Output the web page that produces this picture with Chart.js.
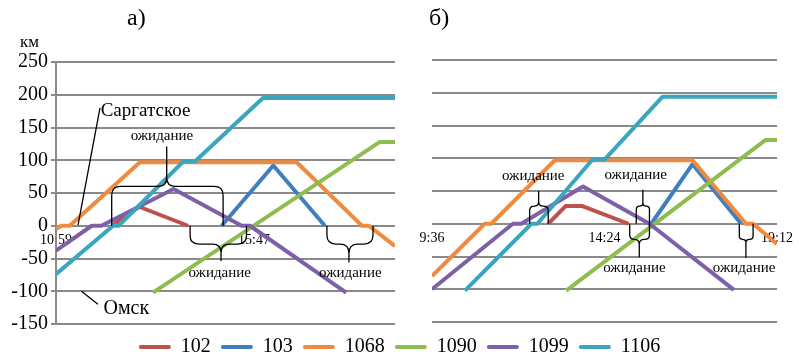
<!DOCTYPE html>
<html><head><meta charset="utf-8">
<script src="https://cdn.jsdelivr.net/npm/chart.js@4.4.1/dist/chart.umd.min.js"></script>
<style>
html,body{margin:0;padding:0;background:#fff;overflow:hidden;}
#wrap{position:relative;width:799px;height:362px;overflow:hidden;font-family:'Liberation Serif','Times New Roman',serif;}
canvas{position:absolute;left:0;top:0;}
.lbl{position:absolute;color:#000;white-space:nowrap;line-height:1;}
</style></head><body>
<div id="wrap">
<canvas id="ca" width="799" height="362"></canvas>
<canvas id="cb" width="799" height="362"></canvas>
<canvas id="cl" width="799" height="80" style="top:327px"></canvas>
<div class="lbl" style="left:127px;top:5px;font-size:24px">а)</div>
<div class="lbl" style="left:429px;top:5px;font-size:24px">б)</div>
<div class="lbl" style="left:20px;top:33px;font-size:17px">км</div>
</div>
<script>
// ---- data ----
const seriesNames = ["102","103","1068","1090","1099","1106"];
const yMin = -150, yMax = 250, yStep = 50;
const aRange = ["10:59","19:12"];
const bRange = ["9:36","19:12"];
const aTickLabels = ["10:59","15:47"];
const bTickLabels = ["9:36","14:24","19:12"];

// panel а)
const a102_t  = ["12:20","13:00","14:11"];
const a102_km = [0,29,0];
const a103_t  = ["15:00","16:15","17:30"];
const a103_km = [0,92,0];
const a1068_t  = ["10:59","11:07","11:19","13:01","16:49","18:24","18:34","19:12"];
const a1068_km = [-5,0,0,97,97,0,0,-31];
const a1090_t  = ["13:20","18:50","19:12"];
const a1090_km = [-102,128,128];
const a1099_t  = ["10:59","11:51","12:05","13:50","15:29","15:41","18:01"];
const a1099_km = [-38,0,0,56,0,0,-102];
const a1106_t  = ["10:59","12:22","12:30","14:04","14:21","16:00","19:12"];
const a1106_km = [-74,0,0,98,98,195,195];

// panel б)
const b102_t  = ["12:50","13:19","13:47","15:04"];
const b102_km = [0,27,27,0];
const b103_t  = ["15:42","16:51","18:12"];
const b103_km = [0,91,0];
const b1068_t  = ["9:36","11:04","11:15","13:01","16:51","18:20","18:32","19:12"];
const b1068_km = [-80,0,0,97,97,0,0,-31];
const b1090_t  = ["13:20","18:53","19:12"];
const b1090_km = [-102,128,128];
const b1099_t  = ["9:36","11:51","12:05","13:48","15:39","18:00"];
const b1099_km = [-100,0,0,57,0,-101];
const b1106_t  = ["10:31","12:22","12:32","14:04","14:24","16:01","19:12"];
const b1106_km = [-102,0,0,98,98,194,194];

// annotations (data coordinates)
const aBraces = [
  {x1:"12:20", x2:"15:02", tip:"13:40", bar:60,  tipKm:121, label:"ожидание", lx:"13:33", ly:137},
  {x1:"14:14", x2:"15:36", tip:"14:59", bar:-28, tipKm:-54, label:"ожидание", lx:"14:57", ly:-72},
  {x1:"17:33", x2:"18:40", tip:"18:05", bar:-28, tipKm:-56, label:"ожидание", lx:"18:07", ly:-72}
];
const bBraces = [
  {x1:"12:19", x2:"12:50", tip:"12:34", bar:27,  tipKm:50,  label:"ожидание", lx:"12:25", ly:73},
  {x1:"15:17", x2:"15:39", tip:"15:28", bar:27,  tipKm:52,  label:"ожидание", lx:"15:16", ly:75},
  {x1:"15:06", x2:"15:39", tip:"15:22", bar:-24, tipKm:-51, label:"ожидание", lx:"15:14", ly:-67},
  {x1:"18:09", x2:"18:32", tip:"18:20", bar:-24, tipKm:-52, label:"ожидание", lx:"18:17", ly:-67}
];
const aCallouts = [
  {text:"Саргатское", fromT:"11:31", fromKm:1,    toT:"12:03", toKm:180,  tx:"12:04", ty:175},
  {text:"Омск",       fromT:"11:36", fromKm:-100, toT:"12:00", toKm:-120, tx:"12:08", ty:-126}
];

// ---- style ----
const FONT = "'Liberation Serif','Times New Roman',serif";
const seriesColors = ["#C0504D","#3F7FC0","#F08A3E","#8FBC4F","#7E60A8","#3AA6BE"];
const GRID = "#8a8a8a";

function toMin(s){ const p = s.split(":"); return (+p[0])*60 + (+p[1]); }

function makeDatasets(T, K){
  return seriesNames.map((n,i)=>({
    label:n,
    data:T[i].map((t,j)=>({x:toMin(t), y:K[i][j]})),
    borderColor:seriesColors[i], backgroundColor:seriesColors[i],
    borderWidth:4, pointRadius:0, pointHoverRadius:0, showLine:true, fill:false, tension:0,
    borderJoinStyle:'round', borderCapStyle:'butt',
    order: seriesNames.length - i
  }));
}

function drawBrace(ctx, x1, x2, xt, y0, yb, yt){
  const d = Math.sign(yt - yb) || 1;
  const r = Math.max(2, Math.min(9, (x2 - x1) / 4, Math.abs(yb - y0) * 0.6, Math.abs(yt - yb) * 0.5));
  ctx.beginPath();
  ctx.moveTo(x1, y0);
  ctx.lineTo(x1, yb - d*r);
  ctx.quadraticCurveTo(x1, yb, x1 + r, yb);
  ctx.lineTo(xt - r, yb);
  ctx.quadraticCurveTo(xt, yb, xt, yb + d*r);
  ctx.lineTo(xt, yt);
  ctx.moveTo(xt, yb + d*r);
  ctx.quadraticCurveTo(xt, yb, xt + r, yb);
  ctx.lineTo(x2 - r, yb);
  ctx.quadraticCurveTo(x2, yb, x2, yb - d*r);
  ctx.lineTo(x2, y0);
  ctx.stroke();
}

const notesPlugin = {
  id:'notes',
  afterDatasetsDraw(chart, args, opts){
    const ctx = chart.ctx, x = chart.scales.x, y = chart.scales.y;
    ctx.save();
    ctx.strokeStyle = '#000'; ctx.fillStyle = '#000'; ctx.lineWidth = 1.3;
    (opts.braces || []).forEach(b => {
      drawBrace(ctx,
        x.getPixelForValue(toMin(b.x1)), x.getPixelForValue(toMin(b.x2)), x.getPixelForValue(toMin(b.tip)),
        y.getPixelForValue(0), y.getPixelForValue(b.bar), y.getPixelForValue(b.tipKm));
      ctx.font = "15px " + FONT; ctx.textAlign = 'center'; ctx.textBaseline = 'middle';
      ctx.fillText(b.label, x.getPixelForValue(toMin(b.lx)), y.getPixelForValue(b.ly));
    });
    (opts.callouts || []).forEach((c, i) => {
      ctx.beginPath();
      ctx.moveTo(x.getPixelForValue(toMin(c.fromT)), y.getPixelForValue(c.fromKm));
      ctx.lineTo(x.getPixelForValue(toMin(c.toT)), y.getPixelForValue(c.toKm));
      ctx.stroke();
      ctx.font = (i === 0 ? "19px " : "20px ") + FONT; ctx.textAlign = 'left'; ctx.textBaseline = 'middle';
      ctx.fillText(c.text, x.getPixelForValue(toMin(c.tx)), y.getPixelForValue(c.ty));
    });
    ctx.restore();
  }
};

function panelOptions(range, tickLabels, padding, showY, notes){
  return {
    responsive:false, animation:false, devicePixelRatio:1, events:[],
    layout:{padding:padding},
    plugins:{legend:{display:false}, tooltip:{enabled:false}, notes:notes},
    scales:{
      x:{type:'linear', position:{y:0}, min:toMin(range[0]), max:toMin(range[1]),
         grid:{display:false, drawTicks:false}, border:{display:false},
         afterBuildTicks: s => { s.ticks = tickLabels.map(t => ({value:toMin(t)})); },
         ticks:{autoSkip:false, maxRotation:0, color:'#000', font:{family:FONT, size:14}, padding:6,
                callback:(v, i) => tickLabels[i]}},
      y:{type:'linear', min:yMin, max:yMax,
         afterFit: s => { s.width = showY ? 56 : 0; },
         ticks: showY ? {stepSize:yStep, color:'#000', font:{family:FONT, size:20}, padding:3}
                      : {stepSize:yStep, display:false},
         grid:{color:GRID, lineWidth:2, tickLength:5, drawTicks:showY},
         border:{display:showY, color:GRID, width:2}}
    }
  };
}

new Chart(document.getElementById('ca'), {
  type:'scatter',
  data:{datasets:makeDatasets([a102_t,a103_t,a1068_t,a1090_t,a1099_t,a1106_t],[a102_km,a103_km,a1068_km,a1090_km,a1099_km,a1106_km])},
  options:panelOptions(aRange, aTickLabels, {left:0, top:62, right:404, bottom:38}, true, {braces:aBraces, callouts:aCallouts}),
  plugins:[notesPlugin]
});
new Chart(document.getElementById('cb'), {
  type:'scatter',
  data:{datasets:makeDatasets([b102_t,b103_t,b1068_t,b1090_t,b1099_t,b1106_t],[b102_km,b103_km,b1068_km,b1090_km,b1099_km,b1106_km])},
  options:panelOptions(bRange, bTickLabels, {left:432, top:60, right:21, bottom:40}, false, {braces:bBraces}),
  plugins:[notesPlugin]
});
new Chart(document.getElementById('cl'), {
  type:'scatter',
  data:{datasets:seriesNames.map((n,i)=>({label:n, data:[], backgroundColor:seriesColors[i], borderColor:seriesColors[i], borderWidth:0}))},
  options:{responsive:false, animation:false, devicePixelRatio:1, events:[],
    scales:{x:{display:false}, y:{display:false}},
    plugins:{tooltip:{enabled:false},
      legend:{display:true, position:'top',
        labels:{boxWidth:32, boxHeight:4, color:'#000', font:{family:FONT, size:20}, padding:10, useBorderRadius:true, borderRadius:2}}}}
});
</script>
</body></html>
